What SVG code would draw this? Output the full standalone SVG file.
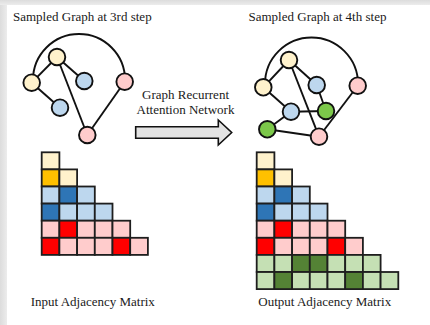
<svg xmlns="http://www.w3.org/2000/svg" width="430" height="325" viewBox="0 0 430 325">
  <defs>
    <linearGradient id="edgeLeft" x1="0" y1="0" x2="1" y2="0">
      <stop offset="0" stop-color="#dcdcdc"/>
      <stop offset="1" stop-color="#ececec"/>
    </linearGradient>
    <linearGradient id="edgeTop" x1="0" y1="0" x2="0" y2="1">
      <stop offset="0" stop-color="#dcdcdc"/>
      <stop offset="1" stop-color="#ececec"/>
    </linearGradient>
  </defs>
  <style>
    .lbl { font-family: "Liberation Serif", "Times New Roman", serif; font-size: 13px; fill: #1a1a1a; }
    .edge { stroke: #111; stroke-width: 1.9; fill: none; }
    .node { stroke: #111; stroke-width: 1.9; }
    .yel { fill: #FFF2CC; }
    .blu { fill: #BDD7EE; }
    .pnk { fill: #FFCCCC; }
    .grn { fill: #7CC84A; }
    .cell { stroke: #1e1e1e; stroke-width: 1.8; }
    .c-ly { fill: #FFF2CC; }
    .c-dy { fill: #FFC000; }
    .c-lb { fill: #BDD7EE; }
    .c-db { fill: #2E75B6; }
    .c-lp { fill: #FFCCCC; }
    .c-dr { fill: #FF0000; }
    .c-lg { fill: #C5E0B4; }
    .c-dg { fill: #548235; }
  </style>

  <!-- page background with soft frame at left and top -->
  <rect x="0" y="0" width="430" height="325" fill="#ffffff"/>
  <rect x="0" y="0" width="7" height="325" fill="url(#edgeLeft)"/>
  <rect x="0" y="0" width="430" height="5" fill="url(#edgeTop)"/>

  <!-- titles -->
  <text class="lbl" x="13" y="21">Sampled Graph at 3rd step</text>
  <text class="lbl" x="248.5" y="21">Sampled Graph at 4th step</text>

  <!-- connectors of the 3rd-step graph -->
  <g id="edges-step3">
    <path class="edge" d="M 33 80 A 46 46 0 0 1 125 80"/>
    <line class="edge" x1="57" y1="57" x2="31.7" y2="82.7"/>
    <line class="edge" x1="57" y1="57" x2="84.3" y2="81"/>
    <line class="edge" x1="57" y1="57" x2="87.3" y2="135"/>
    <line class="edge" x1="31.7" y1="82.7" x2="60" y2="107.7"/>
    <line class="edge" x1="87.3" y1="135" x2="124.7" y2="81.7"/>
  </g>

  <!-- nodes of the 3rd-step graph -->
  <g id="s3-top"><circle class="node yel" cx="57" cy="57" r="8.3"/></g>
  <g id="s3-left"><circle class="node yel" cx="31.7" cy="82.7" r="8.3"/></g>
  <g id="s3-blue-a"><circle class="node blu" cx="84.3" cy="81" r="8.3"/></g>
  <g id="s3-blue-b"><circle class="node blu" cx="60" cy="107.7" r="8.3"/></g>
  <g id="s3-pink-a"><circle class="node pnk" cx="124.7" cy="81.7" r="8.3"/></g>
  <g id="s3-pink-b"><circle class="node pnk" cx="87.3" cy="135" r="8.3"/></g>

  <!-- connectors of the 4th-step graph -->
  <g id="edges-step4">
    <path class="edge" d="M 265 84 A 46.5 46.5 0 0 1 358 84"/>
    <line class="edge" x1="289" y1="60" x2="263.3" y2="87.3"/>
    <line class="edge" x1="289" y1="60" x2="316.7" y2="85"/>
    <line class="edge" x1="289" y1="60" x2="319" y2="136.7"/>
    <line class="edge" x1="263.3" y1="87.3" x2="291" y2="111.7"/>
    <line class="edge" x1="316.7" y1="85" x2="326" y2="111"/>
    <line class="edge" x1="291" y1="111.7" x2="326" y2="111"/>
    <line class="edge" x1="291" y1="111.7" x2="267.3" y2="129.3"/>
    <line class="edge" x1="267.3" y1="129.3" x2="319" y2="136.7"/>
    <line class="edge" x1="319" y1="136.7" x2="357.7" y2="85.7"/>
  </g>

  <!-- nodes of the 4th-step graph -->
  <g id="s4-top"><circle class="node yel" cx="289" cy="60" r="8.3"/></g>
  <g id="s4-left"><circle class="node yel" cx="263.3" cy="87.3" r="8.3"/></g>
  <g id="s4-blue-a"><circle class="node blu" cx="316.7" cy="85" r="8.3"/></g>
  <g id="s4-blue-b"><circle class="node blu" cx="291" cy="111.7" r="8.3"/></g>
  <g id="s4-pink-a"><circle class="node pnk" cx="357.7" cy="85.7" r="8.3"/></g>
  <g id="s4-pink-b"><circle class="node pnk" cx="319" cy="136.7" r="8.3"/></g>
  <g id="s4-green-a"><circle class="node grn" cx="326" cy="111" r="8.3"/></g>
  <g id="s4-green-b"><circle class="node grn" cx="267.3" cy="129.3" r="8.3"/></g>

  <!-- transition arrow -->
  <g id="grann">
    <text class="lbl" x="185.5" y="98.5" text-anchor="middle">Graph Recurrent</text>
    <text class="lbl" x="185.5" y="113.5" text-anchor="middle">Attention Network</text>
    <polygon points="135.7,126.7 218.3,126.7 218.3,120 231.7,132.5 218.3,145 218.3,138.3 135.7,138.3"
             fill="#e3e3e3" stroke="#111" stroke-width="1.6" stroke-linejoin="miter"/>
  </g>

  <!-- input adjacency matrix (lower triangle, cell 17.7 x 17.1) -->
  <g id="matrix-in" transform="translate(41.7,152.3)">
    <rect class="cell c-ly" x="0" y="0" width="17.7" height="17.1"/>

    <rect class="cell c-dy" x="0" y="17.1" width="17.7" height="17.1"/>
    <rect class="cell c-ly" x="17.7" y="17.1" width="17.7" height="17.1"/>

    <rect class="cell c-lb" x="0" y="34.2" width="17.7" height="17.1"/>
    <rect class="cell c-db" x="17.7" y="34.2" width="17.7" height="17.1"/>
    <rect class="cell c-lb" x="35.4" y="34.2" width="17.7" height="17.1"/>

    <rect class="cell c-db" x="0" y="51.3" width="17.7" height="17.1"/>
    <rect class="cell c-lb" x="17.7" y="51.3" width="17.7" height="17.1"/>
    <rect class="cell c-lb" x="35.4" y="51.3" width="17.7" height="17.1"/>
    <rect class="cell c-lb" x="53.1" y="51.3" width="17.7" height="17.1"/>

    <rect class="cell c-lp" x="0" y="68.4" width="17.7" height="17.1"/>
    <rect class="cell c-dr" x="17.7" y="68.4" width="17.7" height="17.1"/>
    <rect class="cell c-lp" x="35.4" y="68.4" width="17.7" height="17.1"/>
    <rect class="cell c-lp" x="53.1" y="68.4" width="17.7" height="17.1"/>
    <rect class="cell c-lp" x="70.8" y="68.4" width="17.7" height="17.1"/>

    <rect class="cell c-dr" x="0" y="85.5" width="17.7" height="17.1"/>
    <rect class="cell c-lp" x="17.7" y="85.5" width="17.7" height="17.1"/>
    <rect class="cell c-lp" x="35.4" y="85.5" width="17.7" height="17.1"/>
    <rect class="cell c-lp" x="53.1" y="85.5" width="17.7" height="17.1"/>
    <rect class="cell c-dr" x="70.8" y="85.5" width="17.7" height="17.1"/>
    <rect class="cell c-lp" x="88.5" y="85.5" width="17.7" height="17.1"/>
  </g>

  <!-- output adjacency matrix -->
  <g id="matrix-out" transform="translate(256.7,152.3)">
    <rect class="cell c-ly" x="0" y="0" width="17.7" height="17.1"/>

    <rect class="cell c-dy" x="0" y="17.1" width="17.7" height="17.1"/>
    <rect class="cell c-ly" x="17.7" y="17.1" width="17.7" height="17.1"/>

    <rect class="cell c-lb" x="0" y="34.2" width="17.7" height="17.1"/>
    <rect class="cell c-db" x="17.7" y="34.2" width="17.7" height="17.1"/>
    <rect class="cell c-lb" x="35.4" y="34.2" width="17.7" height="17.1"/>

    <rect class="cell c-db" x="0" y="51.3" width="17.7" height="17.1"/>
    <rect class="cell c-lb" x="17.7" y="51.3" width="17.7" height="17.1"/>
    <rect class="cell c-lb" x="35.4" y="51.3" width="17.7" height="17.1"/>
    <rect class="cell c-lb" x="53.1" y="51.3" width="17.7" height="17.1"/>

    <rect class="cell c-lp" x="0" y="68.4" width="17.7" height="17.1"/>
    <rect class="cell c-dr" x="17.7" y="68.4" width="17.7" height="17.1"/>
    <rect class="cell c-lp" x="35.4" y="68.4" width="17.7" height="17.1"/>
    <rect class="cell c-lp" x="53.1" y="68.4" width="17.7" height="17.1"/>
    <rect class="cell c-lp" x="70.8" y="68.4" width="17.7" height="17.1"/>

    <rect class="cell c-dr" x="0" y="85.5" width="17.7" height="17.1"/>
    <rect class="cell c-lp" x="17.7" y="85.5" width="17.7" height="17.1"/>
    <rect class="cell c-lp" x="35.4" y="85.5" width="17.7" height="17.1"/>
    <rect class="cell c-lp" x="53.1" y="85.5" width="17.7" height="17.1"/>
    <rect class="cell c-dr" x="70.8" y="85.5" width="17.7" height="17.1"/>
    <rect class="cell c-lp" x="88.5" y="85.5" width="17.7" height="17.1"/>

    <rect class="cell c-lg" x="0" y="102.6" width="17.7" height="17.1"/>
    <rect class="cell c-lg" x="17.7" y="102.6" width="17.7" height="17.1"/>
    <rect class="cell c-dg" x="35.4" y="102.6" width="17.7" height="17.1"/>
    <rect class="cell c-dg" x="53.1" y="102.6" width="17.7" height="17.1"/>
    <rect class="cell c-lg" x="70.8" y="102.6" width="17.7" height="17.1"/>
    <rect class="cell c-lg" x="88.5" y="102.6" width="17.7" height="17.1"/>
    <rect class="cell c-lg" x="106.2" y="102.6" width="17.7" height="17.1"/>

    <rect class="cell c-lg" x="0" y="119.7" width="17.7" height="17.1"/>
    <rect class="cell c-dg" x="17.7" y="119.7" width="17.7" height="17.1"/>
    <rect class="cell c-lg" x="35.4" y="119.7" width="17.7" height="17.1"/>
    <rect class="cell c-lg" x="53.1" y="119.7" width="17.7" height="17.1"/>
    <rect class="cell c-lg" x="70.8" y="119.7" width="17.7" height="17.1"/>
    <rect class="cell c-dg" x="88.5" y="119.7" width="17.7" height="17.1"/>
    <rect class="cell c-lg" x="106.2" y="119.7" width="17.7" height="17.1"/>
    <rect class="cell c-lg" x="123.9" y="119.7" width="17.7" height="17.1"/>
  </g>

  <!-- captions -->
  <text class="lbl" x="30.7" y="306">Input Adjacency Matrix</text>
  <text class="lbl" x="258.3" y="306">Output Adjacency Matrix</text>
</svg>
